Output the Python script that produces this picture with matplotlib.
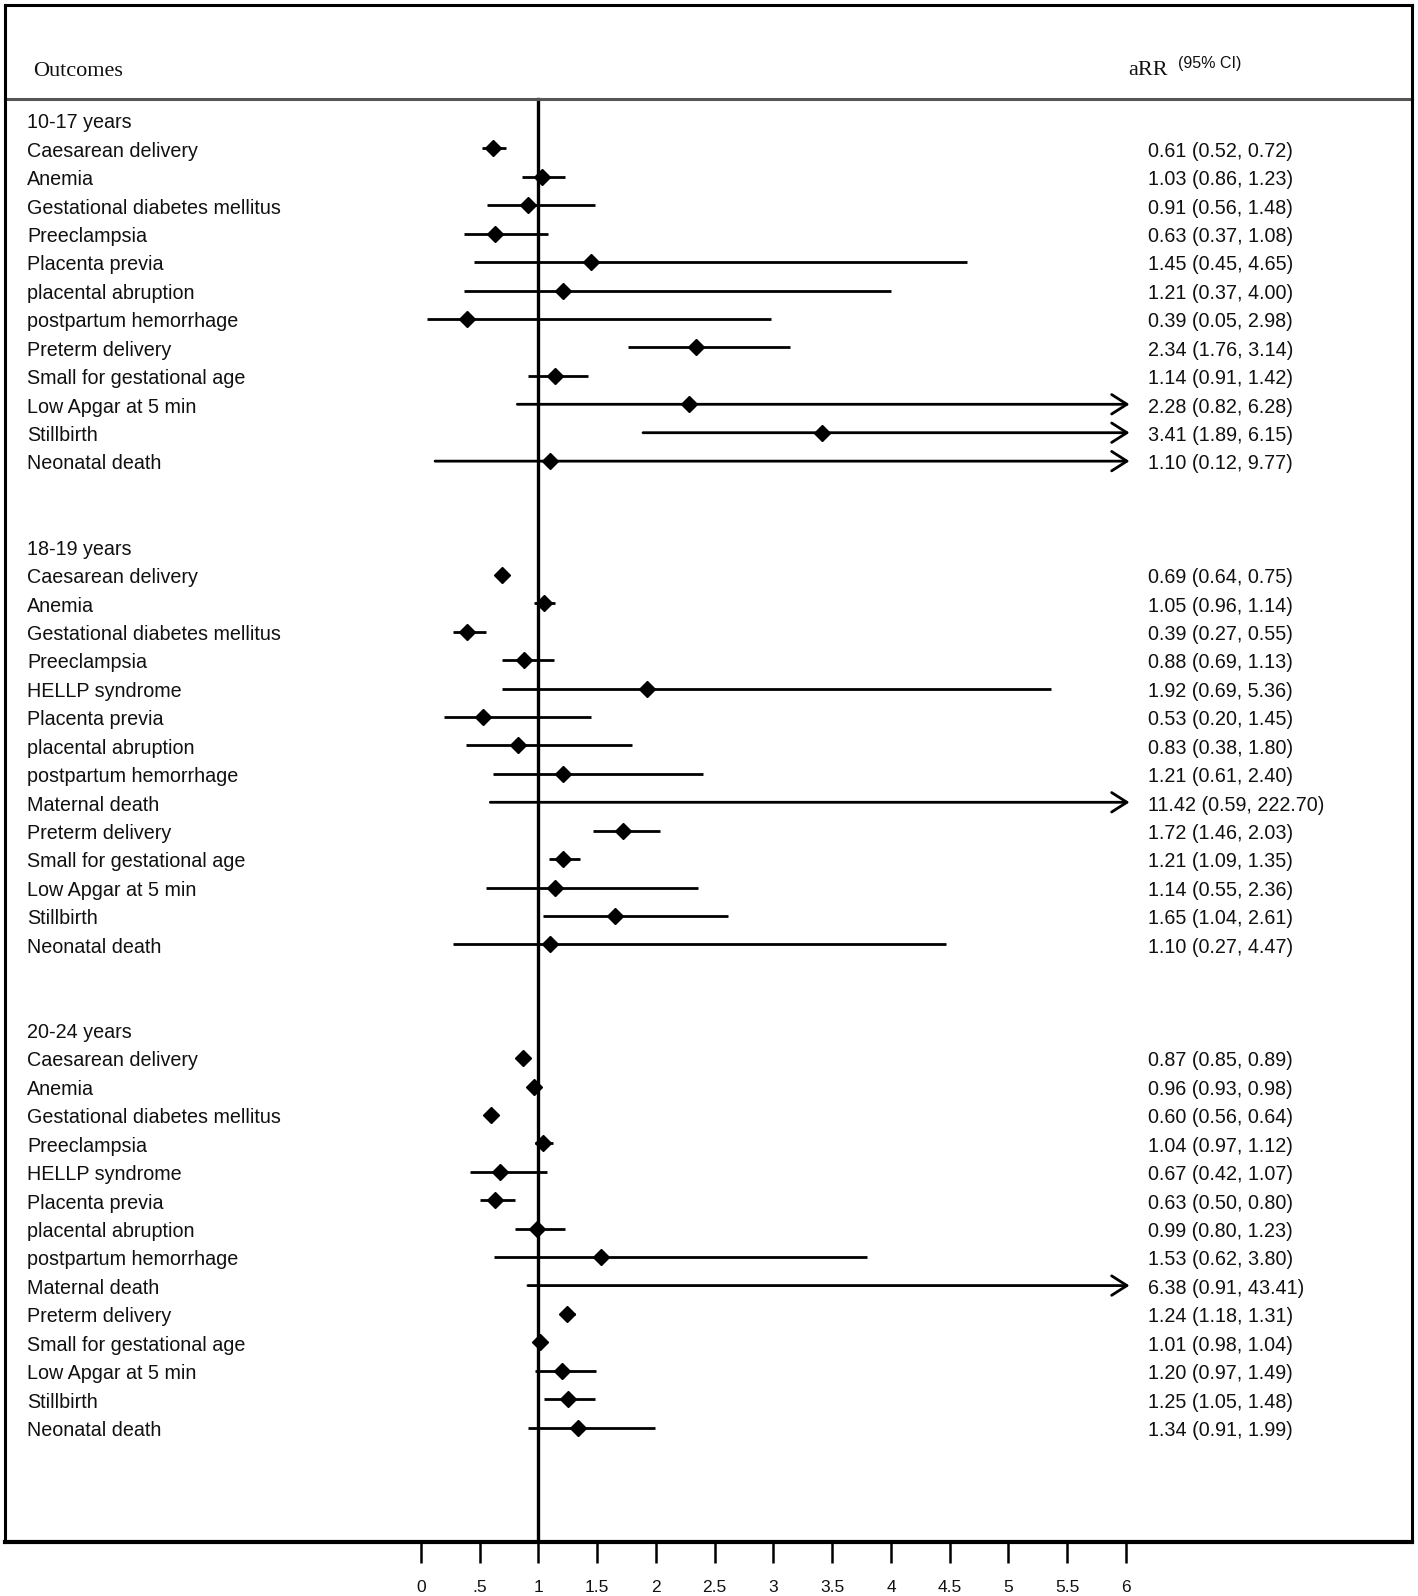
import matplotlib
matplotlib.use("Agg")
import matplotlib.pyplot as plt
import numpy as np

# ---------------- data ----------------
group_names = ["10-17 years", "18-19 years", "20-24 years"]

outcomes_1017 = ["Caesarean delivery", "Anemia", "Gestational diabetes mellitus",
                 "Preeclampsia", "Placenta previa", "placental abruption",
                 "postpartum hemorrhage", "Preterm delivery",
                 "Small for gestational age", "Low Apgar at 5 min",
                 "Stillbirth", "Neonatal death"]
est_1017 = [0.61, 1.03, 0.91, 0.63, 1.45, 1.21, 0.39, 2.34, 1.14, 2.28, 3.41, 1.10]
lo_1017 = [0.52, 0.86, 0.56, 0.37, 0.45, 0.37, 0.05, 1.76, 0.91, 0.82, 1.89, 0.12]
hi_1017 = [0.72, 1.23, 1.48, 1.08, 4.65, 4.00, 2.98, 3.14, 1.42, 6.28, 6.15, 9.77]

outcomes_1819 = ["Caesarean delivery", "Anemia", "Gestational diabetes mellitus",
                 "Preeclampsia", "HELLP syndrome", "Placenta previa",
                 "placental abruption", "postpartum hemorrhage", "Maternal death",
                 "Preterm delivery", "Small for gestational age",
                 "Low Apgar at 5 min", "Stillbirth", "Neonatal death"]
est_1819 = [0.69, 1.05, 0.39, 0.88, 1.92, 0.53, 0.83, 1.21, 11.42, 1.72, 1.21, 1.14, 1.65, 1.10]
lo_1819 = [0.64, 0.96, 0.27, 0.69, 0.69, 0.20, 0.38, 0.61, 0.59, 1.46, 1.09, 0.55, 1.04, 0.27]
hi_1819 = [0.75, 1.14, 0.55, 1.13, 5.36, 1.45, 1.80, 2.40, 222.70, 2.03, 1.35, 2.36, 2.61, 4.47]

outcomes_2024 = ["Caesarean delivery", "Anemia", "Gestational diabetes mellitus",
                 "Preeclampsia", "HELLP syndrome", "Placenta previa",
                 "placental abruption", "postpartum hemorrhage", "Maternal death",
                 "Preterm delivery", "Small for gestational age",
                 "Low Apgar at 5 min", "Stillbirth", "Neonatal death"]
est_2024 = [0.87, 0.96, 0.60, 1.04, 0.67, 0.63, 0.99, 1.53, 6.38, 1.24, 1.01, 1.20, 1.25, 1.34]
lo_2024 = [0.85, 0.93, 0.56, 0.97, 0.42, 0.50, 0.80, 0.62, 0.91, 1.18, 0.98, 0.97, 1.05, 0.91]
hi_2024 = [0.89, 0.98, 0.64, 1.12, 1.07, 0.80, 1.23, 3.80, 43.41, 1.31, 1.04, 1.49, 1.48, 1.99]

tick_values = [0, 0.5, 1, 1.5, 2, 2.5, 3, 3.5, 4, 4.5, 5, 5.5, 6]
tick_labels = ["0", ".5", "1", "1.5", "2", "2.5", "3", "3.5", "4", "4.5", "5", "5.5", "6"]

groups = [
    (group_names[0], outcomes_1017, est_1017, lo_1017, hi_1017),
    (group_names[1], outcomes_1819, est_1819, lo_1819, hi_1819),
    (group_names[2], outcomes_2024, est_2024, lo_2024, hi_2024),
]

# ---------------- layout ----------------
W, H = 1418, 1596
fig = plt.figure(figsize=(W / 100, H / 100), dpi=100)
box_l, box_r, box_t, box_b = 5, 1412, 5, 1542
ax = fig.add_axes([box_l / W, (H - box_b) / H, (box_r - box_l) / W, (box_b - box_t) / H])

XMAX = 6.03          # clip / arrow position
xmin, xmax = -3.54, 8.434
ax.set_xlim(xmin, xmax)
ax.set_ylim(50.02, -4.045)

label_font = {"family": ["Liberation Sans", "DejaVu Sans"], "size": 14.2, "color": "#111111"}
x_label = -3.35
x_value = 6.19
dy_text = 0.1

slot = 0
for gname, outs, est, lo, hi in groups:
    ax.text(x_label, slot + dy_text, gname, va="center", ha="left", **label_font)
    for i, name in enumerate(outs):
        y = slot + 1 + i
        ax.text(x_label, y + dy_text, name, va="center", ha="left", **label_font)
        ax.text(x_value, y + dy_text, f"{est[i]:.2f} ({lo[i]:.2f}, {hi[i]:.2f})",
                va="center", ha="left", **label_font)
        if hi[i] > XMAX:
            ax.annotate("", xy=(XMAX, y), xytext=(lo[i], y),
                        arrowprops=dict(arrowstyle="->,head_length=0.55,head_width=0.35",
                                        mutation_scale=20, lw=2.0, color="black",
                                        shrinkA=0, shrinkB=0))
        else:
            ax.plot([lo[i], hi[i]], [y, y], color="black", lw=2.0,
                    solid_capstyle="butt", zorder=3)
        if est[i] <= XMAX:
            ax.plot(est[i], y, marker="D", markersize=7.8, color="black",
                    markeredgewidth=1, zorder=4)
    slot += len(outs) + 3

# reference line at 1
ax.plot([1, 1], [-0.74, 50.02], color="black", lw=2.4, zorder=2)
# header separator
ax.plot([xmin, xmax], [-0.74, -0.74], color="#555555", lw=2.2, zorder=2, clip_on=False)

# header text
ax.text(-3.30, -1.72, "Outcomes", va="center", ha="left",
        family=["Liberation Serif", "DejaVu Serif"], size=16, color="#111111")
ax.text(6.02, -1.75, "aRR", va="center", ha="left",
        family=["Liberation Serif", "DejaVu Serif"], size=16, color="#111111")
ax.text(6.44, -1.98, "(95% CI)", va="center", ha="left",
        family=["Liberation Sans", "DejaVu Sans"], size=11.5, color="#111111")

# axes frame & ticks
for s in ["left", "right", "top"]:
    ax.spines[s].set_linewidth(2.2)
ax.spines["bottom"].set_linewidth(3.0)
ax.set_yticks([])
ax.set_xticks(tick_values)
ax.set_xticklabels(tick_labels, family=["Liberation Sans", "DejaVu Sans"])
ax.tick_params(axis="x", direction="out", length=15, width=1.8, pad=12,
               labelsize=12.5, labelcolor="#111111")

fig.savefig("out.png", dpi=100)
